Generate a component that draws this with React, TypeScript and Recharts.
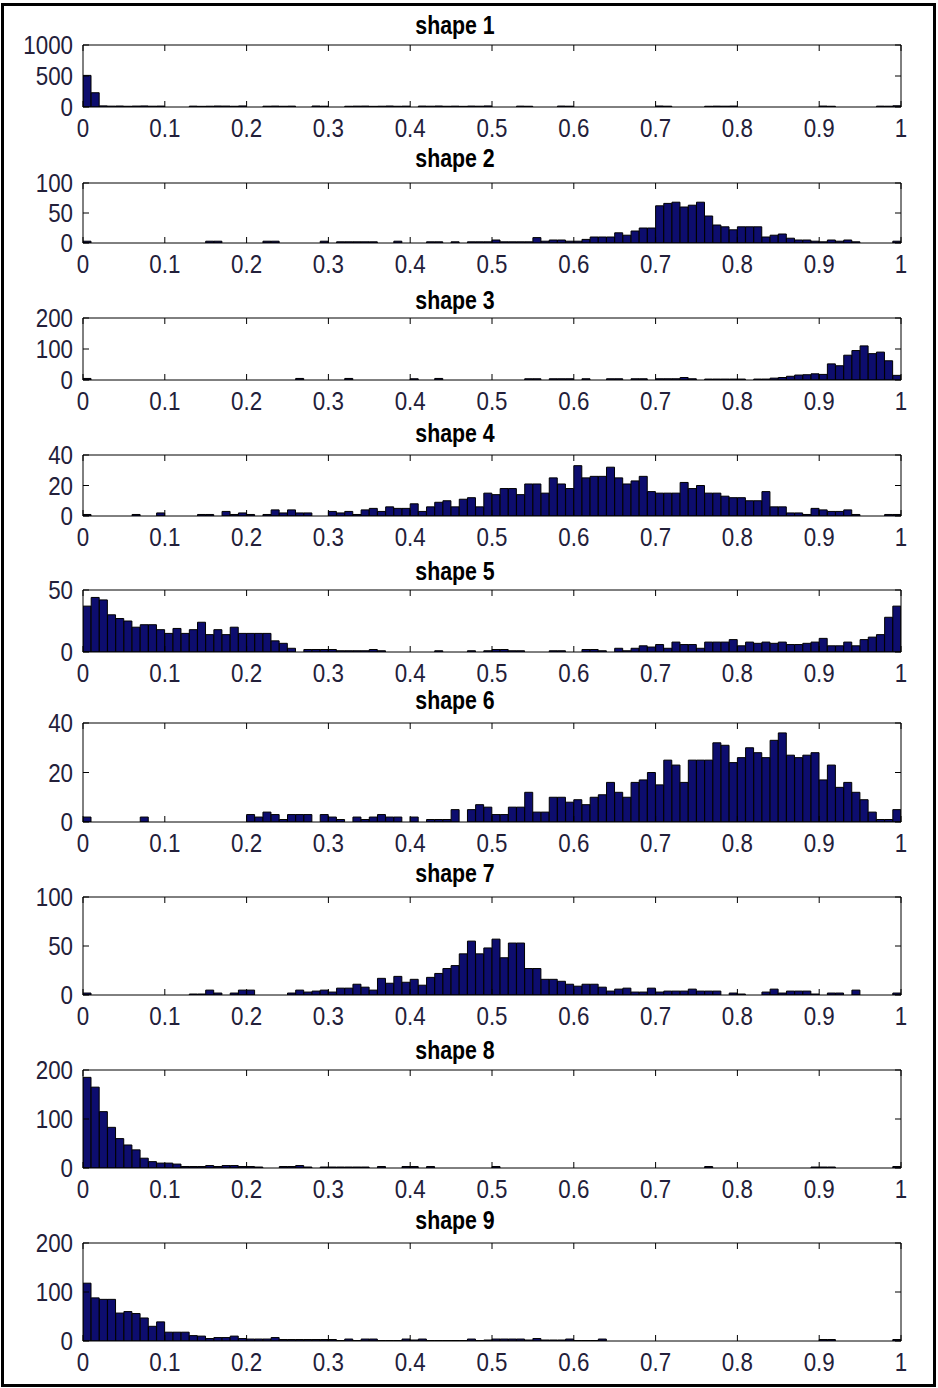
import { BarChart, Bar, XAxis, YAxis } from "recharts";

// 100 bins of width 0.01 over [0, 1]
const binCenters = Array.from({ length: 100 }, (_, i) => Math.round((0.005 + i * 0.01) * 1000) / 1000);
const xTicks = [0, 0.1, 0.2, 0.3, 0.4, 0.5, 0.6, 0.7, 0.8, 0.9, 1];

const shapeTitles = ["shape 1", "shape 2", "shape 3", "shape 4", "shape 5", "shape 6", "shape 7", "shape 8", "shape 9"];

const shapeYTicks = [
  [0, 500, 1000],
  [0, 50, 100],
  [0, 100, 200],
  [0, 20, 40],
  [0, 50],
  [0, 20, 40],
  [0, 50, 100],
  [0, 100, 200],
  [0, 100, 200],
];

const shape1 = [
  510, 230, 18, 14, 16, 12, 15, 17, 13, 15,
  0, 0, 0, 14, 11, 13, 16, 15, 12, 17,
  0, 0, 13, 15, 12, 14, 0, 0, 16, 13,
  0, 0, 12, 14, 15, 11, 13, 16, 12, 14,
  0, 15, 13, 16, 12, 14, 11, 15, 13, 17,
  0, 0, 0, 14, 12, 0, 0, 0, 15, 13,
  0, 0, 0, 0, 0, 0, 0, 0, 0, 0,
  16, 13, 0, 0, 0, 0, 12, 14, 13, 15,
  0, 0, 0, 0, 0, 0, 0, 0, 0, 0,
  15, 12, 0, 0, 0, 0, 0, 14, 13, 20,
];

const shape2 = [
  3, 0, 0, 0, 0, 0, 0, 0, 0, 0,
  0, 0, 0, 0, 0, 3, 3, 0, 0, 0,
  0, 0, 3, 3, 0, 0, 0, 0, 0, 3,
  0, 2, 2, 2, 2, 2, 0, 0, 3, 0,
  0, 0, 2, 2, 0, 2, 0, 2, 2, 2,
  5, 2, 2, 2, 2, 9, 3, 5, 5, 3,
  3, 6, 10, 10, 10, 17, 13, 20, 25, 25,
  62, 66, 68, 60, 63, 68, 45, 30, 27, 22,
  27, 27, 27, 10, 13, 15, 8, 5, 5, 3,
  2, 5, 3, 5, 2, 0, 0, 0, 0, 3,
];

const shape3 = [
  5, 0, 0, 0, 0, 0, 0, 0, 0, 0,
  0, 0, 0, 0, 0, 0, 0, 0, 0, 0,
  0, 0, 0, 0, 0, 0, 5, 0, 0, 0,
  0, 0, 5, 0, 0, 0, 0, 0, 0, 0,
  4, 0, 0, 5, 0, 0, 0, 0, 0, 0,
  0, 0, 0, 0, 4, 4, 0, 4, 4, 4,
  0, 4, 0, 0, 4, 4, 0, 4, 4, 0,
  4, 4, 4, 8, 4, 0, 3, 3, 3, 3,
  3, 0, 3, 3, 6, 8, 12, 16, 17, 20,
  18, 52, 46, 80, 95, 110, 85, 90, 62, 15,
];

const shape4 = [
  1, 0, 0, 0, 0, 0, 1, 0, 0, 2,
  0, 0, 0, 0, 1, 1, 0, 3, 1, 2,
  1, 0, 1, 4, 2, 4, 2, 2, 0, 0,
  3, 2, 3, 1, 4, 5, 3, 6, 5, 5,
  8, 3, 6, 9, 10, 6, 11, 12, 6, 15,
  14, 18, 18, 14, 21, 21, 15, 25, 21, 18,
  33, 25, 26, 26, 32, 25, 21, 23, 26, 16,
  15, 15, 15, 22, 18, 20, 15, 15, 13, 12,
  12, 10, 10, 16, 6, 6, 2, 2, 1, 5,
  4, 3, 3, 4, 1, 0, 0, 0, 1, 1,
];

const shape5 = [
  37, 44, 42, 30, 27, 25, 20, 22, 22, 18,
  15, 19, 15, 18, 24, 14, 18, 14, 20, 15,
  15, 15, 15, 9, 7, 3, 0, 2, 2, 2,
  2, 1, 1, 1, 1, 2, 1, 0, 0, 0,
  0, 0, 0, 1, 0, 0, 0, 1, 0, 1,
  2, 2, 1, 1, 0, 0, 0, 1, 1, 0,
  0, 2, 2, 1, 0, 3, 1, 3, 5, 4,
  6, 3, 8, 6, 6, 3, 8, 8, 8, 10,
  5, 8, 7, 8, 7, 8, 6, 6, 7, 8,
  11, 5, 5, 8, 5, 10, 12, 14, 28, 37,
];

const shape6 = [
  2, 0, 0, 0, 0, 0, 0, 2, 0, 0,
  0, 0, 0, 0, 0, 0, 0, 0, 0, 0,
  3, 2, 4, 3, 1, 3, 3, 3, 0, 3,
  2, 1, 0, 2, 1, 2, 3, 2, 2, 0,
  2, 0, 1, 1, 1, 5, 0, 5, 7, 6,
  3, 3, 6, 6, 12, 4, 4, 10, 10, 8,
  9, 7, 10, 11, 16, 12, 10, 16, 17, 20,
  15, 25, 23, 16, 25, 25, 25, 32, 31, 24,
  26, 30, 28, 26, 33, 36, 27, 26, 27, 28,
  17, 23, 14, 16, 12, 9, 4, 1, 1, 5,
];

const shape7 = [
  2, 0, 0, 0, 0, 0, 0, 0, 0, 0,
  0, 0, 0, 1, 1, 5, 2, 0, 2, 5,
  5, 0, 0, 0, 0, 2, 5, 3, 4, 5,
  3, 7, 7, 11, 8, 5, 17, 12, 19, 13,
  16, 10, 18, 22, 27, 30, 42, 55, 42, 48,
  57, 38, 53, 53, 27, 27, 16, 16, 14, 11,
  9, 11, 11, 8, 4, 6, 7, 3, 3, 7,
  3, 4, 4, 4, 6, 4, 4, 4, 0, 2,
  1, 0, 0, 3, 6, 2, 4, 4, 4, 1,
  0, 2, 2, 0, 5, 0, 0, 0, 0, 2,
];

const shape8 = [
  185, 165, 115, 83, 60, 47, 37, 20, 13, 10,
  10, 8, 3, 3, 3, 5, 3, 5, 5, 3,
  3, 2, 0, 0, 3, 3, 5, 2, 0, 2,
  2, 2, 2, 2, 2, 0, 3, 0, 0, 3,
  3, 0, 3, 0, 0, 0, 0, 0, 0, 0,
  3, 0, 0, 0, 0, 0, 0, 0, 0, 0,
  0, 0, 0, 0, 0, 0, 0, 0, 0, 0,
  0, 0, 0, 0, 0, 0, 3, 0, 0, 0,
  0, 0, 0, 0, 0, 0, 0, 0, 0, 2,
  2, 2, 0, 0, 0, 0, 0, 0, 0, 3,
];

const shape9 = [
  118, 88, 85, 85, 57, 60, 56, 47, 30, 39,
  18, 18, 18, 11, 10, 5, 7, 7, 10, 5,
  4, 4, 4, 7, 3, 3, 3, 3, 3, 3,
  3, 1, 4, 1, 4, 4, 1, 1, 1, 4,
  2, 4, 1, 1, 1, 1, 1, 4, 1, 2,
  4, 4, 4, 4, 2, 5, 2, 2, 2, 4,
  1, 1, 1, 4, 0, 0, 0, 0, 0, 0,
  0, 0, 0, 0, 0, 0, 0, 0, 0, 0,
  0, 0, 0, 0, 0, 0, 0, 0, 0, 0,
  3, 3, 0, 0, 0, 0, 0, 0, 0, 3,
];

const shapeCounts = [shape1, shape2, shape3, shape4, shape5, shape6, shape7, shape8, shape9];

// page layout of each subplot: plot box top, plot box height, title centre
const panels = [
  { top: 45, h: 62, titleY: 25 },
  { top: 183, h: 60, titleY: 158 },
  { top: 318, h: 62, titleY: 300 },
  { top: 455, h: 61, titleY: 433 },
  { top: 590, h: 62, titleY: 571 },
  { top: 723, h: 99, titleY: 700 },
  { top: 897, h: 98, titleY: 873 },
  { top: 1070, h: 98, titleY: 1050 },
  { top: 1243, h: 98, titleY: 1220 },
];

const W = 938;
const PLOT_L = 83;
const PLOT_R = 901;
const PAD_T = 18;
const PAD_B = 42;
const TICK = 6;
const labelFont = "'Liberation Sans', Arial, sans-serif";
const labelColor = "#23203a";

// tick labels are narrow in the original, squeeze them horizontally
const Label = ({ x, y, anchor, text }: { x: number; y: number; anchor: string; text: string }) => (
  <text
    transform={`translate(${x},${y}) scale(0.86,1)`}
    textAnchor={anchor}
    fontSize={26}
    fontFamily={labelFont}
    fill={labelColor}
  >
    {text}
  </text>
);

const BottomTick = (p: any) => (
  <g>
    <line x1={p.x} x2={p.x} y1={p.y} y2={p.y - TICK} stroke="#000" />
    <Label x={p.x} y={p.y + 30} anchor="middle" text={String(p.payload.value)} />
  </g>
);

const TopTick = (p: any) => <line x1={p.x} x2={p.x} y1={p.y} y2={p.y + TICK} stroke="#000" />;

const LeftTick = (p: any) => (
  <g>
    <line x1={p.x} x2={p.x + TICK} y1={p.y} y2={p.y} stroke="#000" />
    <Label x={p.x - 10} y={p.y + 9} anchor="end" text={String(p.payload.value)} />
  </g>
);

const RightTick = (p: any) => <line x1={p.x} x2={p.x - TICK} y1={p.y} y2={p.y} stroke="#000" />;

function Panel({ idx }: { idx: number }) {
  const { top, h, titleY } = panels[idx];
  const counts = shapeCounts[idx];
  const yTicks = shapeYTicks[idx];
  const yMax = yTicks[yTicks.length - 1];
  const data = binCenters.map((x, i) => ({ x, count: counts[i] }));

  return (
    <>
      <div
        style={{
          position: "absolute",
          left: 355,
          width: 200,
          top: titleY - 14,
          textAlign: "center",
          fontFamily: labelFont,
          fontWeight: "bold",
          fontSize: 26,
          lineHeight: "28px",
          color: "#000",
          transform: "scale(0.82, 1)",
        }}
      >
        {shapeTitles[idx]}
      </div>
      <div style={{ position: "absolute", left: 0, top: top - PAD_T }}>
        <BarChart
          width={W}
          height={h + PAD_T + PAD_B}
          data={data}
          margin={{ top: PAD_T - 1, right: W - PLOT_R - 1, bottom: PAD_B - 1, left: PLOT_L - 1 }}
          barCategoryGap={0}
          barGap={0}
        >
          <XAxis
            xAxisId="b"
            dataKey="x"
            type="number"
            domain={[0, 1]}
            ticks={xTicks}
            interval={0}
            allowDataOverflow
            height={1}
            tickSize={0}
            tickMargin={0}
            tickLine={false}
            axisLine={{ stroke: "#000" }}
            tick={BottomTick}
          />
          <XAxis
            xAxisId="t"
            orientation="top"
            dataKey="x"
            type="number"
            domain={[0, 1]}
            ticks={xTicks}
            interval={0}
            allowDataOverflow
            height={1}
            tickSize={0}
            tickMargin={0}
            tickLine={false}
            axisLine={{ stroke: "#000" }}
            tick={TopTick}
          />
          <YAxis
            yAxisId="l"
            type="number"
            domain={[0, yMax]}
            ticks={yTicks}
            interval={0}
            allowDataOverflow
            width={1}
            tickSize={0}
            tickMargin={0}
            tickLine={false}
            axisLine={{ stroke: "#000" }}
            tick={LeftTick}
          />
          <YAxis
            yAxisId="r"
            orientation="right"
            type="number"
            domain={[0, yMax]}
            ticks={yTicks}
            interval={0}
            allowDataOverflow
            width={1}
            tickSize={0}
            tickMargin={0}
            tickLine={false}
            axisLine={{ stroke: "#000" }}
            tick={RightTick}
          />
          <Bar
            xAxisId="b"
            yAxisId="l"
            dataKey="count"
            fill="#0d0d6e"
            stroke="#000"
            strokeWidth={1}
            isAnimationActive={false}
          />
        </BarChart>
      </div>
    </>
  );
}

export default function App() {
  return (
    <div style={{ position: "absolute", left: 0, top: 0, width: W, height: 1388, background: "#fff" }}>
      <div
        style={{
          position: "absolute",
          left: 1,
          top: 3,
          width: 935,
          height: 1384,
          border: "3px solid #000",
          boxSizing: "border-box",
        }}
      />
      {panels.map((_, i) => (
        <Panel key={i} idx={i} />
      ))}
    </div>
  );
}
